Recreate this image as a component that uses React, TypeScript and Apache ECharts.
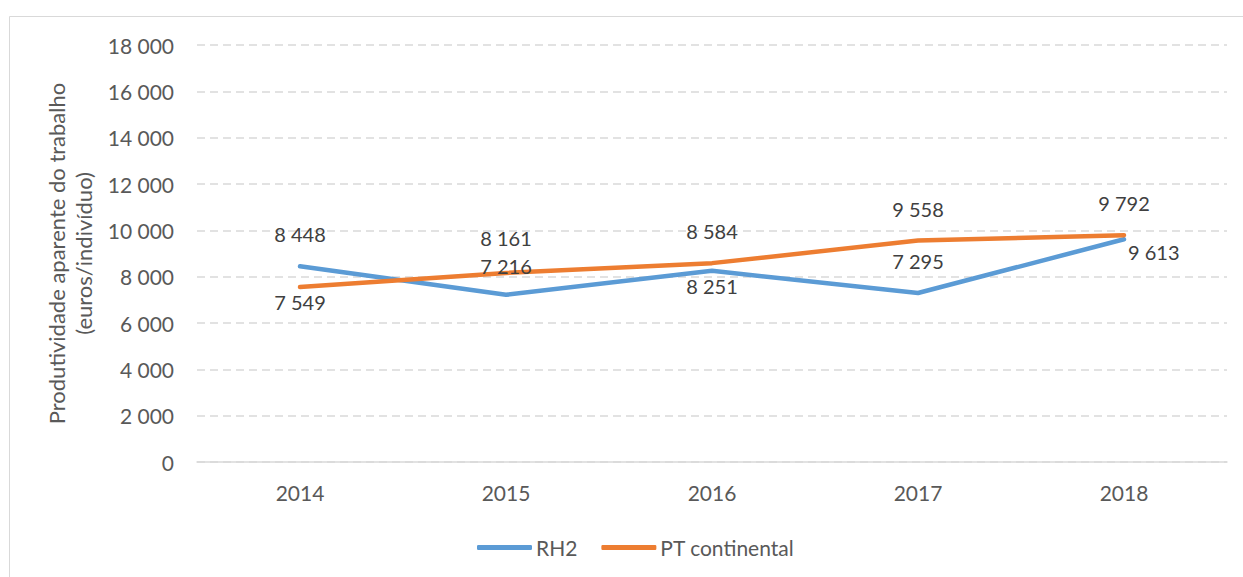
import React, { useEffect, useRef } from "react";
import * as echarts from "echarts";

const years = ["2014", "2015", "2016", "2017", "2018"];
const rh2 = [8448, 7216, 8251, 7295, 9613];
const ptContinental = [7549, 8161, 8584, 9558, 9792];
const rh2LabelPos = ["top", "topLow", "bottom", "top", "right"];
const ptLabelPos = ["bottom", "topHigh", "top", "top", "top"];

const FONT = "Lato, 'Open Sans', sans-serif";
const TXT = "#595959";

const fmt = (v: number) => String(v).replace(/\B(?=(\d{3})+(?!\d))/g, " ");

function labelFor(pos: string) {
  if (pos === "top") return { show: true, position: "top", distance: 22 };
  if (pos === "topHigh") return { show: true, position: "top", distance: 25 };
  if (pos === "topLow") return { show: true, position: "top", distance: 19 };
  if (pos === "bottom") return { show: true, position: "bottom", distance: 5 };
  return { show: true, position: "right", distance: 4, offset: [0, 13] };
}

export default function App() {
  const ref = useRef<HTMLDivElement>(null);
  useEffect(() => {
    if (!ref.current) return;
    const chart = echarts.init(ref.current, undefined, { renderer: "svg" });
    const mk = (vals: number[], poss: string[]) =>
      vals.map((v, i) => ({ value: v, label: labelFor(poss[i]) }));
    const lbl = {
      show: true,
      color: "#404040",
      fontSize: 20,
      lineHeight: 20,
      fontFamily: FONT,
      formatter: (p: any) => fmt(p.value),
    };
    chart.setOption({
      animation: false,
      backgroundColor: "#ffffff",
      textStyle: { fontFamily: FONT },
      graphic: [
        {
          type: "rect",
          shape: { x: 9.5, y: 16.5, width: 1400, height: 700 },
          style: { fill: "none", stroke: "#d9d9d9", lineWidth: 1 },
          silent: true,
        },
      ],
      grid: { left: 197, right: 16, top: 45, bottom: 115, containLabel: false },
      xAxis: {
        type: "category",
        data: years,
        boundaryGap: true,
        axisLine: { lineStyle: { color: "#d9d9d9", width: 1.5 } },
        axisTick: { show: false },
        axisLabel: { color: TXT, fontSize: 21, margin: 20, fontFamily: FONT },
      },
      yAxis: {
        type: "value",
        min: 0,
        max: 18000,
        interval: 2000,
        name: "Produtividade aparente do trabalho\n(euros/indivíduo)",
        nameLocation: "middle",
        nameRotate: 90,
        nameGap: 96,
        nameTextStyle: { color: TXT, fontSize: 22, lineHeight: 27, fontFamily: FONT },
        axisLine: { show: false },
        axisTick: { show: false },
        axisLabel: { color: TXT, fontSize: 21, margin: 23, fontFamily: FONT, formatter: (v: number) => fmt(v) },
        splitLine: { lineStyle: { color: "#d9d9d9", width: 1.5, type: [8, 5] } },
      },
      legend: {
        left: 472,
        top: 532,
        itemWidth: 55,
        itemHeight: 5,
        itemGap: 24,
        icon: "roundRect",
        textStyle: { color: TXT, fontSize: 21, fontFamily: FONT, padding: [0, 0, 0, -1] },
        data: ["RH2", "PT continental"],
      },
      series: [
        {
          name: "RH2",
          type: "line",
          data: mk(rh2, rh2LabelPos),
          symbol: "circle",
          symbolSize: 0.1,
          showSymbol: true,
          color: "#5B9BD5",
          itemStyle: { color: "#5B9BD5" },
          lineStyle: { width: 4.5, color: "#5B9BD5", cap: "round", join: "round" },
          label: lbl,
        },
        {
          name: "PT continental",
          type: "line",
          data: mk(ptContinental, ptLabelPos),
          symbol: "circle",
          symbolSize: 0.1,
          showSymbol: true,
          color: "#ED7D31",
          itemStyle: { color: "#ED7D31" },
          lineStyle: { width: 4.5, color: "#ED7D31", cap: "round", join: "round" },
          label: lbl,
        },
      ],
    });
    return () => chart.dispose();
  }, []);
  return (
    <div
      ref={ref}
      style={{ position: "fixed", left: 0, top: 0, width: 1243, height: 577 }}
    />
  );
}
